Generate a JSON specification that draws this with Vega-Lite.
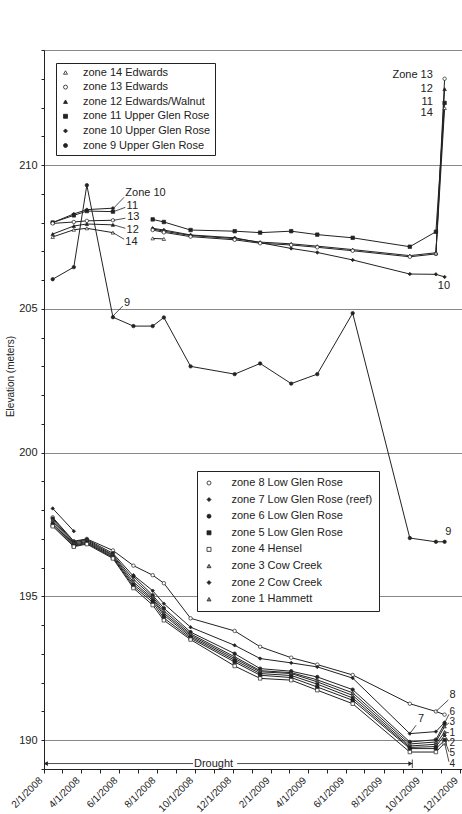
{
  "$schema": "https://vega.github.io/schema/vega-lite/v6.json",
  "width": 418,
  "height": 719,
  "autosize": {"type": "none"},
  "padding": {"left": 44, "top": 50, "right": 0, "bottom": 45},
  "background": "white",
  "config": {
    "font": "Liberation Sans",
    "view": {"stroke": "#888", "strokeWidth": 1},
    "axis": {"labelFont": "Liberation Sans", "titleFont": "Liberation Sans", "labelColor": "#222", "domainColor": "#222", "tickColor": "#222", "titleColor": "#222"},
    "text": {"font": "Liberation Sans", "fontSize": 11, "color": "#222"}
  },
  "datasets": {
    "main": [
      {"zone": "zone 9 Upper Glen Rose", "date": "2008/02/15", "elev": 206.03},
      {"zone": "zone 9 Upper Glen Rose", "date": "2008/03/20", "elev": 206.45},
      {"zone": "zone 9 Upper Glen Rose", "date": "2008/04/10", "elev": 209.3},
      {"zone": "zone 9 Upper Glen Rose", "date": "2008/05/22", "elev": 204.71},
      {"zone": "zone 9 Upper Glen Rose", "date": "2008/06/24", "elev": 204.4},
      {"zone": "zone 9 Upper Glen Rose", "date": "2008/07/25", "elev": 204.4},
      {"zone": "zone 9 Upper Glen Rose", "date": "2008/08/12", "elev": 204.7},
      {"zone": "zone 9 Upper Glen Rose", "date": "2008/09/24", "elev": 203.0},
      {"zone": "zone 9 Upper Glen Rose", "date": "2008/12/04", "elev": 202.73},
      {"zone": "zone 9 Upper Glen Rose", "date": "2009/01/14", "elev": 203.1},
      {"zone": "zone 9 Upper Glen Rose", "date": "2009/03/05", "elev": 202.4},
      {"zone": "zone 9 Upper Glen Rose", "date": "2009/04/16", "elev": 202.73},
      {"zone": "zone 9 Upper Glen Rose", "date": "2009/06/12", "elev": 204.85},
      {"zone": "zone 9 Upper Glen Rose", "date": "2009/09/12", "elev": 197.03},
      {"zone": "zone 9 Upper Glen Rose", "date": "2009/10/24", "elev": 196.9},
      {"zone": "zone 9 Upper Glen Rose", "date": "2009/11/07", "elev": 196.9},

      {"zone": "zone 10 Upper Glen Rose", "date": "2008/02/15", "elev": 208.0},
      {"zone": "zone 10 Upper Glen Rose", "date": "2008/03/20", "elev": 208.3},
      {"zone": "zone 10 Upper Glen Rose", "date": "2008/04/10", "elev": 208.45},
      {"zone": "zone 10 Upper Glen Rose", "date": "2008/05/22", "elev": 208.5},
      {"zone": "zone 10 Upper Glen Rose", "date": "2008/06/24", "elev": null},
      {"zone": "zone 10 Upper Glen Rose", "date": "2008/07/25", "elev": 207.8},
      {"zone": "zone 10 Upper Glen Rose", "date": "2008/08/12", "elev": 207.74},
      {"zone": "zone 10 Upper Glen Rose", "date": "2008/09/24", "elev": 207.57},
      {"zone": "zone 10 Upper Glen Rose", "date": "2008/12/04", "elev": 207.47},
      {"zone": "zone 10 Upper Glen Rose", "date": "2009/01/14", "elev": 207.3},
      {"zone": "zone 10 Upper Glen Rose", "date": "2009/03/05", "elev": 207.1},
      {"zone": "zone 10 Upper Glen Rose", "date": "2009/04/16", "elev": 206.96},
      {"zone": "zone 10 Upper Glen Rose", "date": "2009/06/12", "elev": 206.7},
      {"zone": "zone 10 Upper Glen Rose", "date": "2009/09/12", "elev": 206.21},
      {"zone": "zone 10 Upper Glen Rose", "date": "2009/10/24", "elev": 206.2},
      {"zone": "zone 10 Upper Glen Rose", "date": "2009/11/07", "elev": 206.11},

      {"zone": "zone 11 Upper Glen Rose", "date": "2008/02/15", "elev": 208.0},
      {"zone": "zone 11 Upper Glen Rose", "date": "2008/03/20", "elev": 208.25},
      {"zone": "zone 11 Upper Glen Rose", "date": "2008/04/10", "elev": 208.4},
      {"zone": "zone 11 Upper Glen Rose", "date": "2008/05/22", "elev": 208.38},
      {"zone": "zone 11 Upper Glen Rose", "date": "2008/06/24", "elev": null},
      {"zone": "zone 11 Upper Glen Rose", "date": "2008/07/25", "elev": 208.11},
      {"zone": "zone 11 Upper Glen Rose", "date": "2008/08/12", "elev": 208.02},
      {"zone": "zone 11 Upper Glen Rose", "date": "2008/09/24", "elev": 207.74},
      {"zone": "zone 11 Upper Glen Rose", "date": "2008/12/04", "elev": 207.7},
      {"zone": "zone 11 Upper Glen Rose", "date": "2009/01/14", "elev": 207.65},
      {"zone": "zone 11 Upper Glen Rose", "date": "2009/03/05", "elev": 207.7},
      {"zone": "zone 11 Upper Glen Rose", "date": "2009/04/16", "elev": 207.58},
      {"zone": "zone 11 Upper Glen Rose", "date": "2009/06/12", "elev": 207.47},
      {"zone": "zone 11 Upper Glen Rose", "date": "2009/09/12", "elev": 207.16},
      {"zone": "zone 11 Upper Glen Rose", "date": "2009/10/24", "elev": 207.68},
      {"zone": "zone 11 Upper Glen Rose", "date": "2009/11/07", "elev": 212.16},

      {"zone": "zone 12 Edwards/Walnut", "date": "2008/02/15", "elev": 207.6},
      {"zone": "zone 12 Edwards/Walnut", "date": "2008/03/20", "elev": 207.88},
      {"zone": "zone 12 Edwards/Walnut", "date": "2008/04/10", "elev": 207.95},
      {"zone": "zone 12 Edwards/Walnut", "date": "2008/05/22", "elev": 207.92},
      {"zone": "zone 12 Edwards/Walnut", "date": "2008/06/24", "elev": null},
      {"zone": "zone 12 Edwards/Walnut", "date": "2008/07/25", "elev": 207.78},
      {"zone": "zone 12 Edwards/Walnut", "date": "2008/08/12", "elev": 207.7},
      {"zone": "zone 12 Edwards/Walnut", "date": "2008/09/24", "elev": 207.55},
      {"zone": "zone 12 Edwards/Walnut", "date": "2008/12/04", "elev": 207.44},
      {"zone": "zone 12 Edwards/Walnut", "date": "2009/01/14", "elev": 207.32},
      {"zone": "zone 12 Edwards/Walnut", "date": "2009/03/05", "elev": 207.26},
      {"zone": "zone 12 Edwards/Walnut", "date": "2009/04/16", "elev": 207.18},
      {"zone": "zone 12 Edwards/Walnut", "date": "2009/06/12", "elev": 207.06},
      {"zone": "zone 12 Edwards/Walnut", "date": "2009/09/12", "elev": 206.85},
      {"zone": "zone 12 Edwards/Walnut", "date": "2009/10/24", "elev": 206.95},
      {"zone": "zone 12 Edwards/Walnut", "date": "2009/11/07", "elev": 212.64},

      {"zone": "zone 13 Edwards", "date": "2008/02/15", "elev": 207.97},
      {"zone": "zone 13 Edwards", "date": "2008/03/20", "elev": 208.02},
      {"zone": "zone 13 Edwards", "date": "2008/04/10", "elev": 208.06},
      {"zone": "zone 13 Edwards", "date": "2008/05/22", "elev": 208.08},
      {"zone": "zone 13 Edwards", "date": "2008/06/24", "elev": null},
      {"zone": "zone 13 Edwards", "date": "2008/07/25", "elev": 207.74},
      {"zone": "zone 13 Edwards", "date": "2008/08/12", "elev": 207.66},
      {"zone": "zone 13 Edwards", "date": "2008/09/24", "elev": 207.51},
      {"zone": "zone 13 Edwards", "date": "2008/12/04", "elev": 207.4},
      {"zone": "zone 13 Edwards", "date": "2009/01/14", "elev": 207.28},
      {"zone": "zone 13 Edwards", "date": "2009/03/05", "elev": 207.22},
      {"zone": "zone 13 Edwards", "date": "2009/04/16", "elev": 207.14},
      {"zone": "zone 13 Edwards", "date": "2009/06/12", "elev": 207.02},
      {"zone": "zone 13 Edwards", "date": "2009/09/12", "elev": 206.81},
      {"zone": "zone 13 Edwards", "date": "2009/10/24", "elev": 206.91},
      {"zone": "zone 13 Edwards", "date": "2009/11/07", "elev": 213.0},

      {"zone": "zone 14 Edwards", "date": "2008/02/15", "elev": 207.5},
      {"zone": "zone 14 Edwards", "date": "2008/03/20", "elev": 207.75},
      {"zone": "zone 14 Edwards", "date": "2008/04/10", "elev": 207.8},
      {"zone": "zone 14 Edwards", "date": "2008/05/22", "elev": 207.65},
      {"zone": "zone 14 Edwards", "date": "2008/06/24", "elev": null},
      {"zone": "zone 14 Edwards", "date": "2008/07/25", "elev": 207.45},
      {"zone": "zone 14 Edwards", "date": "2008/08/12", "elev": 207.43},
      {"zone": "zone 14 Edwards", "date": "2008/09/24", "elev": null},
      {"zone": "zone 14 Edwards", "date": "2009/10/24", "elev": 206.93},
      {"zone": "zone 14 Edwards", "date": "2009/11/07", "elev": 211.98},

      {"zone": "zone 8 Low Glen Rose", "date": "2008/02/15", "elev": 197.75},
      {"zone": "zone 8 Low Glen Rose", "date": "2008/03/20", "elev": 196.92},
      {"zone": "zone 8 Low Glen Rose", "date": "2008/04/10", "elev": 197.0},
      {"zone": "zone 8 Low Glen Rose", "date": "2008/05/22", "elev": 196.6},
      {"zone": "zone 8 Low Glen Rose", "date": "2008/06/24", "elev": 196.07},
      {"zone": "zone 8 Low Glen Rose", "date": "2008/07/25", "elev": 195.74},
      {"zone": "zone 8 Low Glen Rose", "date": "2008/08/12", "elev": 195.46},
      {"zone": "zone 8 Low Glen Rose", "date": "2008/09/24", "elev": 194.24},
      {"zone": "zone 8 Low Glen Rose", "date": "2008/12/04", "elev": 193.8},
      {"zone": "zone 8 Low Glen Rose", "date": "2009/01/14", "elev": 193.25},
      {"zone": "zone 8 Low Glen Rose", "date": "2009/03/05", "elev": 192.87},
      {"zone": "zone 8 Low Glen Rose", "date": "2009/04/16", "elev": 192.63},
      {"zone": "zone 8 Low Glen Rose", "date": "2009/06/12", "elev": 192.27},
      {"zone": "zone 8 Low Glen Rose", "date": "2009/09/12", "elev": 191.27},
      {"zone": "zone 8 Low Glen Rose", "date": "2009/10/24", "elev": 191.0},
      {"zone": "zone 8 Low Glen Rose", "date": "2009/11/07", "elev": 190.89},

      {"zone": "zone 7 Low Glen Rose (reef)", "date": "2008/02/15", "elev": 198.06},
      {"zone": "zone 7 Low Glen Rose (reef)", "date": "2008/03/20", "elev": 197.27},
      {"zone": "zone 7 Low Glen Rose (reef)", "date": "2008/04/10", "elev": null},
      {"zone": "zone 7 Low Glen Rose (reef)", "date": "2008/06/24", "elev": 195.74},
      {"zone": "zone 7 Low Glen Rose (reef)", "date": "2008/07/25", "elev": 195.2},
      {"zone": "zone 7 Low Glen Rose (reef)", "date": "2008/08/12", "elev": 194.75},
      {"zone": "zone 7 Low Glen Rose (reef)", "date": "2008/09/24", "elev": 193.93},
      {"zone": "zone 7 Low Glen Rose (reef)", "date": "2008/12/04", "elev": 193.3},
      {"zone": "zone 7 Low Glen Rose (reef)", "date": "2009/01/14", "elev": 192.84},
      {"zone": "zone 7 Low Glen Rose (reef)", "date": "2009/03/05", "elev": 192.69},
      {"zone": "zone 7 Low Glen Rose (reef)", "date": "2009/04/16", "elev": 192.55},
      {"zone": "zone 7 Low Glen Rose (reef)", "date": "2009/06/12", "elev": 192.16},
      {"zone": "zone 7 Low Glen Rose (reef)", "date": "2009/09/12", "elev": 190.23},
      {"zone": "zone 7 Low Glen Rose (reef)", "date": "2009/10/24", "elev": 190.3},
      {"zone": "zone 7 Low Glen Rose (reef)", "date": "2009/11/07", "elev": 190.62},

      {"zone": "zone 6 Low Glen Rose", "date": "2008/02/15", "elev": 197.71},
      {"zone": "zone 6 Low Glen Rose", "date": "2008/03/20", "elev": 196.9},
      {"zone": "zone 6 Low Glen Rose", "date": "2008/04/10", "elev": 196.98},
      {"zone": "zone 6 Low Glen Rose", "date": "2008/05/22", "elev": 196.5},
      {"zone": "zone 6 Low Glen Rose", "date": "2008/06/24", "elev": 195.7},
      {"zone": "zone 6 Low Glen Rose", "date": "2008/07/25", "elev": 195.04},
      {"zone": "zone 6 Low Glen Rose", "date": "2008/08/12", "elev": 194.59},
      {"zone": "zone 6 Low Glen Rose", "date": "2008/09/24", "elev": 193.76},
      {"zone": "zone 6 Low Glen Rose", "date": "2008/12/04", "elev": 193.01},
      {"zone": "zone 6 Low Glen Rose", "date": "2009/01/14", "elev": 192.49},
      {"zone": "zone 6 Low Glen Rose", "date": "2009/03/05", "elev": 192.4},
      {"zone": "zone 6 Low Glen Rose", "date": "2009/04/16", "elev": 192.2},
      {"zone": "zone 6 Low Glen Rose", "date": "2009/06/12", "elev": 191.76},
      {"zone": "zone 6 Low Glen Rose", "date": "2009/09/12", "elev": 189.94},
      {"zone": "zone 6 Low Glen Rose", "date": "2009/10/24", "elev": 190.02},
      {"zone": "zone 6 Low Glen Rose", "date": "2009/11/07", "elev": 190.58},

      {"zone": "zone 3 Cow Creek", "date": "2008/02/15", "elev": 197.66},
      {"zone": "zone 3 Cow Creek", "date": "2008/03/20", "elev": 196.86},
      {"zone": "zone 3 Cow Creek", "date": "2008/04/10", "elev": 196.95},
      {"zone": "zone 3 Cow Creek", "date": "2008/05/22", "elev": 196.45},
      {"zone": "zone 3 Cow Creek", "date": "2008/06/24", "elev": 195.6},
      {"zone": "zone 3 Cow Creek", "date": "2008/07/25", "elev": 194.98},
      {"zone": "zone 3 Cow Creek", "date": "2008/08/12", "elev": 194.5},
      {"zone": "zone 3 Cow Creek", "date": "2008/09/24", "elev": 193.7},
      {"zone": "zone 3 Cow Creek", "date": "2008/12/04", "elev": 192.9},
      {"zone": "zone 3 Cow Creek", "date": "2009/01/14", "elev": 192.42},
      {"zone": "zone 3 Cow Creek", "date": "2009/03/05", "elev": 192.35},
      {"zone": "zone 3 Cow Creek", "date": "2009/04/16", "elev": 192.1},
      {"zone": "zone 3 Cow Creek", "date": "2009/06/12", "elev": 191.65},
      {"zone": "zone 3 Cow Creek", "date": "2009/09/12", "elev": 189.87},
      {"zone": "zone 3 Cow Creek", "date": "2009/10/24", "elev": 189.94},
      {"zone": "zone 3 Cow Creek", "date": "2009/11/07", "elev": 190.48},

      {"zone": "zone 1 Hammett", "date": "2008/02/15", "elev": 197.6},
      {"zone": "zone 1 Hammett", "date": "2008/03/20", "elev": 196.82},
      {"zone": "zone 1 Hammett", "date": "2008/04/10", "elev": 196.91},
      {"zone": "zone 1 Hammett", "date": "2008/05/22", "elev": 196.42},
      {"zone": "zone 1 Hammett", "date": "2008/06/24", "elev": 195.5},
      {"zone": "zone 1 Hammett", "date": "2008/07/25", "elev": 194.92},
      {"zone": "zone 1 Hammett", "date": "2008/08/12", "elev": 194.42},
      {"zone": "zone 1 Hammett", "date": "2008/09/24", "elev": 193.65},
      {"zone": "zone 1 Hammett", "date": "2008/12/04", "elev": 192.84},
      {"zone": "zone 1 Hammett", "date": "2009/01/14", "elev": 192.38},
      {"zone": "zone 1 Hammett", "date": "2009/03/05", "elev": 192.32},
      {"zone": "zone 1 Hammett", "date": "2009/04/16", "elev": 192.03},
      {"zone": "zone 1 Hammett", "date": "2009/06/12", "elev": 191.56},
      {"zone": "zone 1 Hammett", "date": "2009/09/12", "elev": 189.8},
      {"zone": "zone 1 Hammett", "date": "2009/10/24", "elev": 189.86},
      {"zone": "zone 1 Hammett", "date": "2009/11/07", "elev": 190.29},

      {"zone": "zone 2 Cow Creek", "date": "2008/02/15", "elev": 197.54},
      {"zone": "zone 2 Cow Creek", "date": "2008/03/20", "elev": 196.78},
      {"zone": "zone 2 Cow Creek", "date": "2008/04/10", "elev": 196.88},
      {"zone": "zone 2 Cow Creek", "date": "2008/05/22", "elev": 196.38},
      {"zone": "zone 2 Cow Creek", "date": "2008/06/24", "elev": 195.42},
      {"zone": "zone 2 Cow Creek", "date": "2008/07/25", "elev": 194.87},
      {"zone": "zone 2 Cow Creek", "date": "2008/08/12", "elev": 194.35},
      {"zone": "zone 2 Cow Creek", "date": "2008/09/24", "elev": 193.6},
      {"zone": "zone 2 Cow Creek", "date": "2008/12/04", "elev": 192.78},
      {"zone": "zone 2 Cow Creek", "date": "2009/01/14", "elev": 192.32},
      {"zone": "zone 2 Cow Creek", "date": "2009/03/05", "elev": 192.25},
      {"zone": "zone 2 Cow Creek", "date": "2009/04/16", "elev": 191.95},
      {"zone": "zone 2 Cow Creek", "date": "2009/06/12", "elev": 191.47},
      {"zone": "zone 2 Cow Creek", "date": "2009/09/12", "elev": 189.75},
      {"zone": "zone 2 Cow Creek", "date": "2009/10/24", "elev": 189.78},
      {"zone": "zone 2 Cow Creek", "date": "2009/11/07", "elev": 190.17},

      {"zone": "zone 5 Low Glen Rose", "date": "2008/02/15", "elev": 197.48},
      {"zone": "zone 5 Low Glen Rose", "date": "2008/03/20", "elev": 196.75},
      {"zone": "zone 5 Low Glen Rose", "date": "2008/04/10", "elev": 196.85},
      {"zone": "zone 5 Low Glen Rose", "date": "2008/05/22", "elev": 196.35},
      {"zone": "zone 5 Low Glen Rose", "date": "2008/06/24", "elev": 195.35},
      {"zone": "zone 5 Low Glen Rose", "date": "2008/07/25", "elev": 194.8},
      {"zone": "zone 5 Low Glen Rose", "date": "2008/08/12", "elev": 194.25},
      {"zone": "zone 5 Low Glen Rose", "date": "2008/09/24", "elev": 193.55},
      {"zone": "zone 5 Low Glen Rose", "date": "2008/12/04", "elev": 192.72},
      {"zone": "zone 5 Low Glen Rose", "date": "2009/01/14", "elev": 192.26},
      {"zone": "zone 5 Low Glen Rose", "date": "2009/03/05", "elev": 192.18},
      {"zone": "zone 5 Low Glen Rose", "date": "2009/04/16", "elev": 191.85},
      {"zone": "zone 5 Low Glen Rose", "date": "2009/06/12", "elev": 191.39},
      {"zone": "zone 5 Low Glen Rose", "date": "2009/09/12", "elev": 189.71},
      {"zone": "zone 5 Low Glen Rose", "date": "2009/10/24", "elev": 189.71},
      {"zone": "zone 5 Low Glen Rose", "date": "2009/11/07", "elev": 190.0},

      {"zone": "zone 4 Hensel", "date": "2008/02/15", "elev": 197.44},
      {"zone": "zone 4 Hensel", "date": "2008/03/20", "elev": 196.73},
      {"zone": "zone 4 Hensel", "date": "2008/04/10", "elev": 196.82},
      {"zone": "zone 4 Hensel", "date": "2008/05/22", "elev": 196.32},
      {"zone": "zone 4 Hensel", "date": "2008/06/24", "elev": 195.29},
      {"zone": "zone 4 Hensel", "date": "2008/07/25", "elev": 194.7},
      {"zone": "zone 4 Hensel", "date": "2008/08/12", "elev": 194.17},
      {"zone": "zone 4 Hensel", "date": "2008/09/24", "elev": 193.5},
      {"zone": "zone 4 Hensel", "date": "2008/12/04", "elev": 192.58},
      {"zone": "zone 4 Hensel", "date": "2009/01/14", "elev": 192.15},
      {"zone": "zone 4 Hensel", "date": "2009/03/05", "elev": 192.09},
      {"zone": "zone 4 Hensel", "date": "2009/04/16", "elev": 191.74},
      {"zone": "zone 4 Hensel", "date": "2009/06/12", "elev": 191.27},
      {"zone": "zone 4 Hensel", "date": "2009/09/12", "elev": 189.59},
      {"zone": "zone 4 Hensel", "date": "2009/10/24", "elev": 189.59},
      {"zone": "zone 4 Hensel", "date": "2009/11/07", "elev": 189.9}
    ],
    "notesLeft": [
      {"date": "2008/06/11", "elev": 209.03, "text": "Zone 10"},
      {"date": "2008/06/13", "elev": 208.58, "text": "11"},
      {"date": "2008/06/14", "elev": 208.18, "text": "13"},
      {"date": "2008/06/13", "elev": 207.74, "text": "12"},
      {"date": "2008/06/11", "elev": 207.33, "text": "14"},
      {"date": "2008/06/09", "elev": 205.22, "text": "9"},
      {"date": "2009/10/27", "elev": 205.79, "text": "10"},
      {"date": "2009/11/08", "elev": 197.24, "text": "9"},
      {"date": "2009/11/15", "elev": 191.57, "text": "8"},
      {"date": "2009/09/25", "elev": 190.73, "text": "7"}
    ],
    "notesSmall": [
      {"date": "2009/11/15", "elev": 190.98, "text": "6"},
      {"date": "2009/11/15", "elev": 190.62, "text": "3"},
      {"date": "2009/11/15", "elev": 190.26, "text": "1"},
      {"date": "2009/11/15", "elev": 189.9, "text": "2"},
      {"date": "2009/11/15", "elev": 189.54, "text": "5"},
      {"date": "2009/11/15", "elev": 189.18, "text": "4"}
    ],
    "notesRight": [
      {"date": "2009/10/19", "elev": 213.13, "text": "Zone 13"},
      {"date": "2009/10/19", "elev": 212.64, "text": "12"},
      {"date": "2009/10/19", "elev": 212.19, "text": "11"},
      {"date": "2009/10/19", "elev": 211.81, "text": "14"}
    ],
    "notesCenter": [
      {"date": "2008/10/31", "elev": 189.19, "text": "Drought"}
    ],
    "segments": [
      {"date": "2008/06/09", "elev": 208.88, "date2": "2008/05/23", "elev2": 208.5},
      {"date": "2008/06/11", "elev": 208.53, "date2": "2008/05/23", "elev2": 208.38},
      {"date": "2008/06/11", "elev": 208.15, "date2": "2008/05/23", "elev2": 208.08},
      {"date": "2008/06/11", "elev": 207.8, "date2": "2008/05/23", "elev2": 207.92},
      {"date": "2008/06/09", "elev": 207.42, "date2": "2008/05/22", "elev2": 207.65},
      {"date": "2008/06/07", "elev": 205.1, "date2": "2008/05/22", "elev2": 204.75},
      {"date": "2009/09/22", "elev": 190.52, "date2": "2009/09/12", "elev2": 190.23},
      {"date": "2009/11/13", "elev": 191.4, "date2": "2009/10/24", "elev2": 191.0},
      {"date": "2009/11/14", "elev": 190.9, "date2": "2009/11/07", "elev2": 190.6},
      {"date": "2009/11/14", "elev": 190.6, "date2": "2009/11/07", "elev2": 190.48},
      {"date": "2009/11/14", "elev": 190.26, "date2": "2009/11/07", "elev2": 190.29},
      {"date": "2009/11/14", "elev": 189.95, "date2": "2009/11/07", "elev2": 190.17},
      {"date": "2009/11/14", "elev": 189.6, "date2": "2009/11/07", "elev2": 190.0},
      {"date": "2009/11/14", "elev": 189.25, "date2": "2009/11/07", "elev2": 189.9},
      {"date": "2008/02/01", "elev": 189.19, "date2": "2008/09/28", "elev2": 189.19},
      {"date": "2008/12/08", "elev": 189.19, "date2": "2009/09/16", "elev2": 189.19},
      {"date": "2009/09/16", "elev": 189.03, "date2": "2009/09/16", "elev2": 189.33}
    ]
  },
  "encoding": {
    "x": {
      "field": "date",
      "type": "temporal",
      "scale": {"domain": [{"year": 2008, "month": 2, "date": 1}, {"year": 2009, "month": 12, "date": 5}]},
      "axis": {
        "title": null,
        "grid": false,
        "values": [
          {"year": 2008, "month": 2, "date": 1}, {"year": 2008, "month": 3, "date": 1}, {"year": 2008, "month": 4, "date": 1},
          {"year": 2008, "month": 5, "date": 1}, {"year": 2008, "month": 6, "date": 1}, {"year": 2008, "month": 7, "date": 1},
          {"year": 2008, "month": 8, "date": 1}, {"year": 2008, "month": 9, "date": 1}, {"year": 2008, "month": 10, "date": 1},
          {"year": 2008, "month": 11, "date": 1}, {"year": 2008, "month": 12, "date": 1}, {"year": 2009, "month": 1, "date": 1},
          {"year": 2009, "month": 2, "date": 1}, {"year": 2009, "month": 3, "date": 1}, {"year": 2009, "month": 4, "date": 1},
          {"year": 2009, "month": 5, "date": 1}, {"year": 2009, "month": 6, "date": 1}, {"year": 2009, "month": 7, "date": 1},
          {"year": 2009, "month": 8, "date": 1}, {"year": 2009, "month": 9, "date": 1}, {"year": 2009, "month": 10, "date": 1},
          {"year": 2009, "month": 11, "date": 1}, {"year": 2009, "month": 12, "date": 1}
        ],
        "labelExpr": "month(datum.value) % 2 === 1 ? timeFormat(datum.value, '%-m/%-d/%Y') : ''",
        "labelAngle": -45,
        "labelAlign": "right",
        "labelBaseline": "bottom",
        "labelFontSize": 10,
        "labelPadding": 9,
        "labelOverlap": false,
        "labelBound": false,
        "tickSize": 4
      }
    },
    "y": {
      "field": "elev",
      "type": "quantitative",
      "scale": {"domain": [189, 214], "nice": false, "zero": false},
      "axis": {
        "title": "Elevation (meters)",
        "titleFontSize": 10,
        "titleFontWeight": "normal",
        "titleX": -34,
        "titleY": 326,
        "titleAngle": -90,
        "titleAlign": "center",
        "titleBaseline": "middle",
        "values": [189, 190, 191, 192, 193, 194, 195, 196, 197, 198, 199, 200, 201, 202, 203, 204, 205, 206, 207, 208, 209, 210, 211, 212, 213, 214],
        "labelExpr": "datum.value % 5 === 0 ? datum.label : ''",
        "labelFontSize": 11,
        "labelPadding": 4,
        "tickSize": 3,
        "grid": true,
        "gridColor": "#888",
        "gridOpacity": {"condition": {"test": "datum.value % 5 === 0", "value": 1}, "value": 0}
      }
    }
  },
  "layer": [
    {
      "data": {"name": "main"},
      "mark": {"type": "line", "color": "#222", "strokeWidth": 1, "invalid": "break-paths-filter-domains"},
      "encoding": {"detail": {"field": "zone", "type": "nominal"}}
    },
    {
      "data": {"name": "main"},
      "transform": [
        {"filter": "datum.elev != null"},
        {"filter": {"field": "zone", "oneOf": ["zone 14 Edwards", "zone 13 Edwards", "zone 12 Edwards/Walnut", "zone 11 Upper Glen Rose", "zone 10 Upper Glen Rose", "zone 9 Upper Glen Rose"]}}
      ],
      "mark": {"type": "point", "filled": true, "size": 12, "strokeWidth": 0.7, "opacity": 1},
      "encoding": {
        "shape": {
          "field": "zone", "type": "nominal",
          "scale": {"domain": ["zone 14 Edwards", "zone 13 Edwards", "zone 12 Edwards/Walnut", "zone 11 Upper Glen Rose", "zone 10 Upper Glen Rose", "zone 9 Upper Glen Rose"],
                    "range": ["triangle-up", "circle", "triangle-up", "square", "diamond", "circle"]},
          "legend": {"title": null, "orient": "none", "legendX": 12, "legendY": 13, "labelFontSize": 11, "labelColor": "#222", "symbolSize": 16, "rowPadding": 2.6, "padding": 4, "strokeColor": "#222", "fillColor": "white", "labelOffset": 12, "symbolStrokeWidth": 0.8}
        },
        "fill": {
          "field": "zone", "type": "nominal",
          "scale": {"domain": ["zone 14 Edwards", "zone 13 Edwards", "zone 12 Edwards/Walnut", "zone 11 Upper Glen Rose", "zone 10 Upper Glen Rose", "zone 9 Upper Glen Rose"],
                    "range": ["white", "white", "#222", "#222", "#222", "#222"]},
          "legend": {"title": null, "orient": "none", "legendX": 12, "legendY": 13, "labelFontSize": 11, "labelColor": "#222", "symbolSize": 16, "rowPadding": 2.6, "padding": 4, "strokeColor": "#222", "fillColor": "white", "labelOffset": 12, "symbolStrokeWidth": 0.8}
        },
        "stroke": {
          "field": "zone", "type": "nominal",
          "scale": {"domain": ["zone 14 Edwards", "zone 13 Edwards", "zone 12 Edwards/Walnut", "zone 11 Upper Glen Rose", "zone 10 Upper Glen Rose", "zone 9 Upper Glen Rose"],
                    "range": ["#222", "#222", "#222", "#222", "#222", "#222"]},
          "legend": {"title": null, "orient": "none", "legendX": 12, "legendY": 13, "labelFontSize": 11, "labelColor": "#222", "symbolSize": 16, "rowPadding": 2.6, "padding": 4, "strokeColor": "#222", "fillColor": "white", "labelOffset": 12, "symbolStrokeWidth": 0.8}
        }
      }
    },
    {
      "data": {"name": "main"},
      "transform": [
        {"filter": "datum.elev != null"},
        {"filter": {"field": "zone", "oneOf": ["zone 8 Low Glen Rose", "zone 7 Low Glen Rose (reef)", "zone 6 Low Glen Rose", "zone 5 Low Glen Rose", "zone 4 Hensel", "zone 3 Cow Creek", "zone 2 Cow Creek", "zone 1 Hammett"]}}
      ],
      "mark": {"type": "point", "filled": true, "size": 12, "strokeWidth": 0.7, "opacity": 1},
      "encoding": {
        "shape": {
          "field": "zone", "type": "nominal",
          "scale": {"domain": ["zone 8 Low Glen Rose", "zone 7 Low Glen Rose (reef)", "zone 6 Low Glen Rose", "zone 5 Low Glen Rose", "zone 4 Hensel", "zone 3 Cow Creek", "zone 2 Cow Creek", "zone 1 Hammett"],
                    "range": ["circle", "diamond", "circle", "square", "square", "triangle-up", "diamond", "triangle-up"]},
          "legend": {"title": null, "orient": "none", "legendX": 153, "legendY": 421, "labelFontSize": 11, "labelColor": "#222", "symbolSize": 16, "rowPadding": 4.6, "padding": 6.5, "strokeColor": "#222", "fillColor": "white", "labelOffset": 17, "symbolStrokeWidth": 0.8}
        },
        "fill": {
          "field": "zone", "type": "nominal",
          "scale": {"domain": ["zone 8 Low Glen Rose", "zone 7 Low Glen Rose (reef)", "zone 6 Low Glen Rose", "zone 5 Low Glen Rose", "zone 4 Hensel", "zone 3 Cow Creek", "zone 2 Cow Creek", "zone 1 Hammett"],
                    "range": ["white", "#222", "#222", "#222", "white", "#888", "#222", "#888"]},
          "legend": {"title": null, "orient": "none", "legendX": 153, "legendY": 421, "labelFontSize": 11, "labelColor": "#222", "symbolSize": 16, "rowPadding": 4.6, "padding": 6.5, "strokeColor": "#222", "fillColor": "white", "labelOffset": 17, "symbolStrokeWidth": 0.8}
        },
        "stroke": {
          "field": "zone", "type": "nominal",
          "scale": {"domain": ["zone 8 Low Glen Rose", "zone 7 Low Glen Rose (reef)", "zone 6 Low Glen Rose", "zone 5 Low Glen Rose", "zone 4 Hensel", "zone 3 Cow Creek", "zone 2 Cow Creek", "zone 1 Hammett"],
                    "range": ["#222", "#222", "#222", "#222", "#222", "#222", "#222", "#222"]},
          "legend": {"title": null, "orient": "none", "legendX": 153, "legendY": 421, "labelFontSize": 11, "labelColor": "#222", "symbolSize": 16, "rowPadding": 4.6, "padding": 6.5, "strokeColor": "#222", "fillColor": "white", "labelOffset": 17, "symbolStrokeWidth": 0.8}
        }
      }
    },
    {
      "data": {"name": "segments"},
      "mark": {"type": "rule", "color": "#222", "strokeWidth": 0.8},
      "encoding": {
        "x2": {"field": "date2"},
        "y2": {"field": "elev2"}
      }
    },
    {
      "data": {"values": [{"date": "2008/02/04", "elev": 189.19}]},
      "mark": {"type": "point", "shape": "triangle-left", "filled": true, "color": "#222", "size": 22, "opacity": 1},
      "encoding": {}
    },
    {
      "data": {"values": [{"date": "2009/09/13", "elev": 189.19}]},
      "mark": {"type": "point", "shape": "triangle-right", "filled": true, "color": "#222", "size": 22, "opacity": 1},
      "encoding": {}
    },
    {
      "data": {"name": "notesLeft"},
      "mark": {"type": "text", "align": "left", "baseline": "middle", "fontSize": 11},
      "encoding": {"text": {"field": "text"}}
    },
    {
      "data": {"name": "notesSmall"},
      "mark": {"type": "text", "align": "left", "baseline": "middle", "fontSize": 10},
      "encoding": {"text": {"field": "text"}}
    },
    {
      "data": {"name": "notesRight"},
      "mark": {"type": "text", "align": "right", "baseline": "middle", "fontSize": 11},
      "encoding": {"text": {"field": "text"}}
    },
    {
      "data": {"name": "notesCenter"},
      "mark": {"type": "text", "align": "center", "baseline": "middle", "fontSize": 11},
      "encoding": {"text": {"field": "text"}}
    }
  ],
  "resolve": {
    "scale": {"shape": "independent", "fill": "independent", "stroke": "independent"},
    "legend": {"shape": "independent", "fill": "independent", "stroke": "independent"}
  }
}
